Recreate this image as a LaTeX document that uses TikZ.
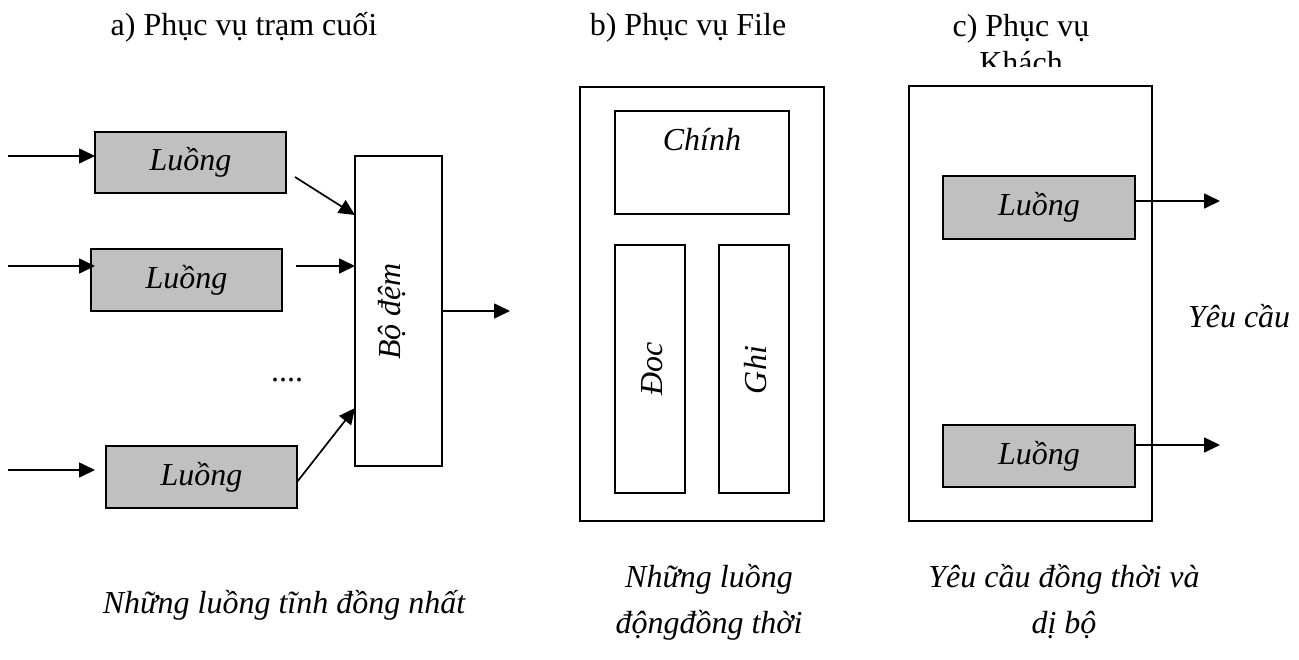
\documentclass[tikz,border=0pt]{standalone}
\usepackage{fontspec}
\setmainfont{Liberation Serif}
\usetikzlibrary{arrows.meta}
\definecolor{threadgray}{RGB}{192,192,192}
\begin{document}
\begin{tikzpicture}[x=1pt,y=-1pt,
  every node/.style={inner sep=0pt, outer sep=0pt},
  upright/.style={font=\fontsize{32}{37}\selectfont},
  slanted/.style={font=\fontsize{32}{37}\selectfont\itshape},
  note/.style={font=\fontsize{32}{46}\selectfont\itshape},
  box/.style={draw, line width=1.9pt, slanted},
  thread/.style={box, fill=threadgray},
  arr/.style={line width=1.7pt, -{Triangle[length=16pt,width=15pt]}}]
\useasboundingbox (0,0) rectangle (1299,659);

% ---------- a) terminal service ----------
\node[upright, anchor=base] (ta) at (244,35) {a) Phục vụ trạm cuối};
\node[thread, minimum width=191pt, minimum height=61pt] (l1) at (190.5,162.5) {Luồng};
\node[thread, minimum width=191pt, minimum height=62pt] (l2) at (186.5,280) {Luồng};
\node[thread, minimum width=191pt, minimum height=62pt] (l3) at (201.5,477) {Luồng};
\node[box, minimum width=87pt, minimum height=310pt] (buf) at (398.5,311) {};
\node[slanted, rotate=90] (buftxt) at (392.5,311.5) {Bộ đệm};
\node[upright, anchor=base] (dots) at (287,381) {....};

\coordinate (in1) at (8,156);
\coordinate (in2) at (8,266);
\coordinate (in2e) at (95,266);
\coordinate (in3) at (8,470);
\coordinate (in3e) at (95,470);
\draw[arr] (in1) -- (l1.west |- in1);
\draw[arr] (in2) -- (in2e);
\draw[arr] (in3) -- (in3e);

\coordinate (s1) at (295,177);
\coordinate (s2) at (296,266);
\draw[arr] (s1) -- (buf.west |- 0,215);
\draw[arr] (s2) -- (buf.west |- s2);
\draw[arr] (l3.east |- 0,482) -- (buf.west |- 0,408);
\coordinate (out) at (510,311);
\draw[arr] (buf.east |- out) -- (out);

% ---------- b) file service ----------
\node[upright, anchor=base] (tb) at (688,35) {b) Phục vụ File};
\node[box, minimum width=244pt, minimum height=434pt] (fs) at (702,304) {};
\node[box, minimum width=174pt, minimum height=103pt] (main) at (702,162.5) {};
\node[slanted, anchor=base] (maintxt) at (702,150) {Chính};
\node[box, minimum width=70pt, minimum height=248pt] (rd) at (650,369) {};
\node[slanted, rotate=90] (rdtxt) at (652,369) {Đoc};
\node[box, minimum width=70pt, minimum height=248pt] (wr) at (754,369) {};
\node[slanted, rotate=90] (wrtxt) at (756,370) {Ghi};

% ---------- c) client service ----------
\begin{scope}
  \clip (900,0) rectangle (1150,66);
  \node[upright, anchor=base] (tc) at (1021,36)
    {\begin{tabular}[t]{@{}c@{}}c) Phục vụ\\Khách\end{tabular}};
\end{scope}
\node[box, minimum width=243pt, minimum height=435pt] (cs) at (1030.5,303.5) {};
\node[thread, minimum width=192pt, minimum height=63pt] (t1) at (1039,207.5) {Luồng};
\node[thread, minimum width=192pt, minimum height=62pt] (t2) at (1039,456) {Luồng};
\coordinate (r1) at (1220,201);
\coordinate (r2) at (1220,445);
\draw[arr] (t1.east |- r1) -- (r1);
\draw[arr] (t2.east |- r2) -- (r2);
\node[slanted, anchor=base west] (req) at (1188,327) {Yêu cầu};

% ---------- captions ----------
\node[note, anchor=base] (na) at (284,613) {Những luồng tĩnh đồng nhất};
\node[note, anchor=base] (nb) at (709,587)
  {\begin{tabular}[t]{@{}c@{}}Những luồng\\độngđồng thời\end{tabular}};
\node[note, anchor=base] (nc) at (1064,587)
  {\begin{tabular}[t]{@{}c@{}}Yêu cầu đồng thời và\\dị bộ\end{tabular}};
\end{tikzpicture}
\end{document}
